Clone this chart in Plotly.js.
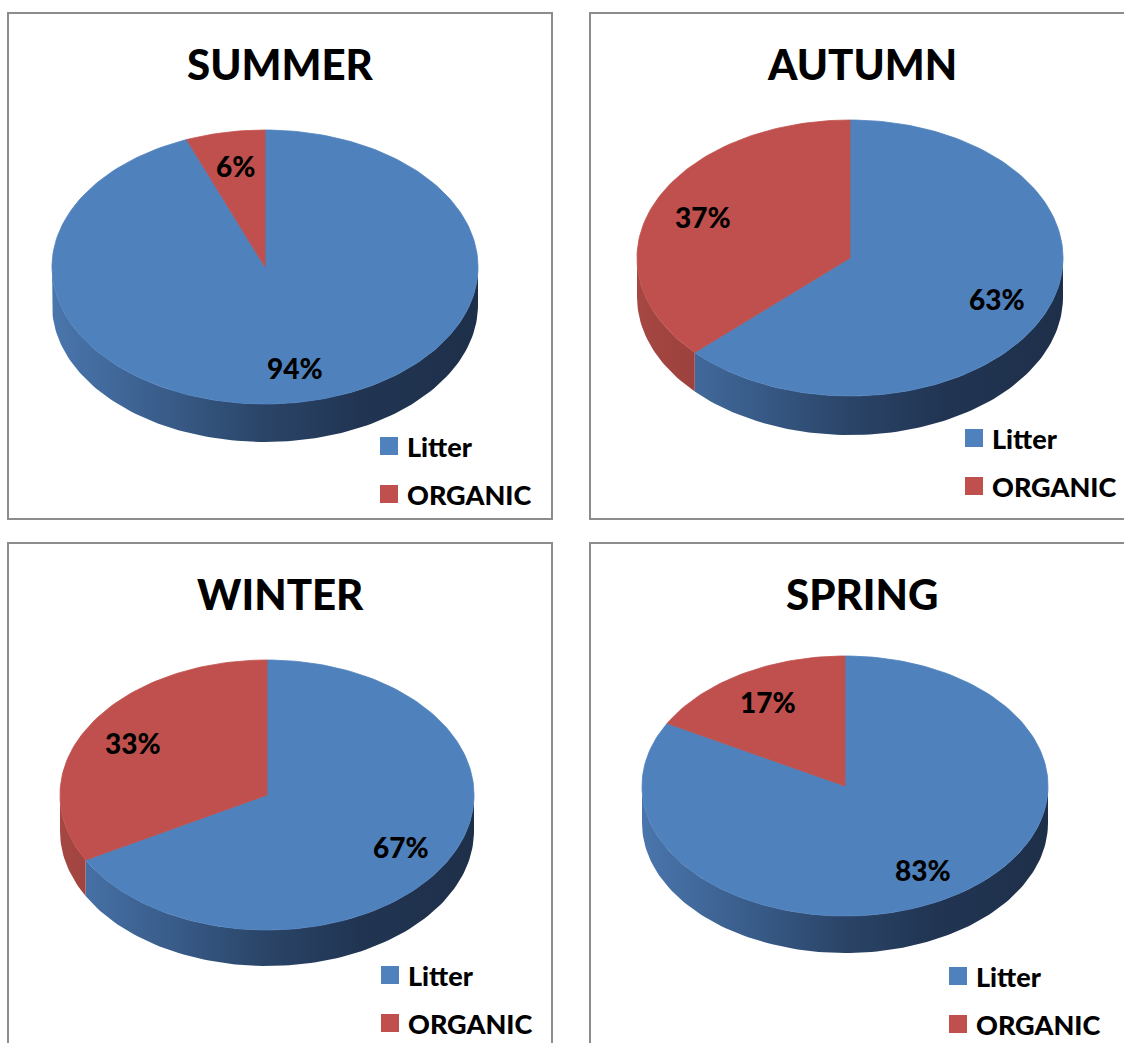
<!DOCTYPE html>
<html>
<head>
<meta charset="utf-8">
<script src="https://cdn.plot.ly/plotly-3.0.1.min.js"></script>
<style>
  html, body { margin: 0; padding: 0; background: #ffffff; }
  #chart { width: 1124px; height: 1043px; }
</style>
</head>
<body>
<div id="chart"></div>
<script>
// Seasonal share of waste: litter vs organic material
const seasons = ['SUMMER', 'AUTUMN', 'WINTER', 'SPRING'];
const categories = ['Litter', 'ORGANIC'];
const litterPct = [94, 63, 67, 83];
const organicPct = [6, 37, 33, 17];

// Panel frames and pie geometry (pixel units of the full-page axis)
const panels = [
  { box: [8, 13, 552, 519],      cx: 265, cy: 267, rx: 213, ry: 137, depth: 38, titleX: 280, titleY: 64,  legX: 380, legY: 446 },
  { box: [590, 13, 1140, 519],   cx: 850, cy: 258, rx: 213, ry: 138, depth: 39, titleX: 862, titleY: 64,  legX: 965, legY: 438 },
  { box: [8, 543, 552, 1060],    cx: 267, cy: 795, rx: 207, ry: 135, depth: 36, titleX: 280, titleY: 594, legX: 381, legY: 975 },
  { box: [590, 543, 1140, 1060], cx: 845, cy: 786, rx: 203, ry: 130, depth: 37, titleX: 862, titleY: 594, legX: 949, legY: 976 }
];

const topColors = ['#4f81bd', '#c0504d'];
const sideScales = [
  [[0, '#4a76ad'], [0.25, '#3a5e8c'], [0.5, '#2a4467'], [0.72, '#213553'], [1, '#1e2f49']],
  [[0, '#a54743'], [0.5, '#87322f'], [1, '#6b2927']]
];
const FONT = 'Lato, "Open Sans", sans-serif';

function ellipsePoint(p, deg, dy) {
  const t = deg * Math.PI / 180;
  return [p.cx + p.rx * Math.sin(t), p.cy - p.ry * Math.cos(t) + (dy || 0)];
}

function arc(p, a, b, dy) {
  const n = Math.max(2, Math.ceil(Math.abs(b - a) / 1.5));
  const pts = [];
  for (let i = 0; i <= n; i++) pts.push(ellipsePoint(p, a + (b - a) * i / n, dy));
  return pts;
}

const traces = [];
const annotations = [];
const shapes = [];

panels.forEach((p, i) => {
  const values = [litterPct[i], organicPct[i]];
  const total = values.reduce((s, v) => s + v, 0);

  // slice angle spans, clockwise from 12 o'clock
  let start = 0;
  const spans = values.map(v => {
    const a = start, b = start + 360 * v / total;
    start = b;
    return [a, b];
  });

  // visible side wall (front half of the rim: 90..270 degrees)
  spans.forEach(([a, b], k) => {
    const lo = Math.max(a, 90), hi = Math.min(b, 270);
    if (hi <= lo) return;
    const upper = arc(p, lo, hi, 0);
    const lower = arc(p, hi, lo, p.depth);
    const pts = upper.concat(lower);
    traces.push({
      type: 'scatter', mode: 'lines',
      x: pts.map(q => q[0]), y: pts.map(q => q[1]),
      fill: 'toself',
      fillcolor: topColors[k],
      fillgradient: { type: 'horizontal', start: p.cx - p.rx, stop: p.cx + p.rx, colorscale: sideScales[k] },
      line: { width: 0 },
      hoverinfo: 'skip', showlegend: false
    });
  });

  // top face slices
  spans.forEach(([a, b], k) => {
    const pts = [[p.cx, p.cy]].concat(arc(p, a, b, 0)).concat([[p.cx, p.cy]]);
    traces.push({
      type: 'scatter', mode: 'lines',
      x: pts.map(q => q[0]), y: pts.map(q => q[1]),
      fill: 'toself', fillcolor: topColors[k],
      line: { width: 0.8, color: topColors[k] },
      hoverinfo: 'skip', showlegend: false
    });
  });

  // percentage labels on the slices
  spans.forEach(([a, b], k) => {
    const m = (a + b) / 2 * Math.PI / 180;
    annotations.push({
      x: p.cx + 0.75 * p.rx * Math.sin(m),
      y: p.cy - 0.75 * p.ry * Math.cos(m),
      xref: 'x', yref: 'y', showarrow: false,
      text: values[k] + '%',
      font: { family: FONT, size: 28, color: '#000000', weight: 900 }
    });
  });

  // panel title
  annotations.push({
    x: p.titleX, y: p.titleY, xref: 'x', yref: 'y', showarrow: false,
    text: seasons[i],
    font: { family: FONT, size: 42, color: '#000000', weight: 900 }
  });

  // panel frame
  shapes.push({
    type: 'rect', xref: 'x', yref: 'y',
    x0: p.box[0], y0: p.box[1], x1: p.box[2], y1: p.box[3],
    line: { color: '#8c8c8c', width: 2 }, fillcolor: 'rgba(0,0,0,0)', layer: 'below'
  });

  // legend entries
  categories.forEach((c, k) => {
    const yc = p.legY + k * 48;
    shapes.push({
      type: 'rect', xref: 'x', yref: 'y',
      x0: p.legX, x1: p.legX + 18, y0: yc - 9, y1: yc + 9,
      line: { width: 0 }, fillcolor: topColors[k]
    });
    annotations.push({
      x: p.legX + 25, y: yc, xref: 'x', yref: 'y', showarrow: false,
      xanchor: 'left', yanchor: 'middle',
      text: c,
      font: { family: FONT, size: 27, color: '#000000', weight: 900 }
    });
  });
});

const layout = {
  width: 1124, height: 1043,
  margin: { l: 0, r: 0, t: 0, b: 0 },
  paper_bgcolor: '#ffffff', plot_bgcolor: '#ffffff',
  showlegend: false,
  xaxis: { range: [0, 1124], visible: false, fixedrange: true },
  yaxis: { range: [1043, 0], visible: false, fixedrange: true },
  shapes: shapes,
  annotations: annotations
};

Plotly.newPlot('chart', traces, layout, { staticPlot: true, displayModeBar: false });
</script>
</body>
</html>
